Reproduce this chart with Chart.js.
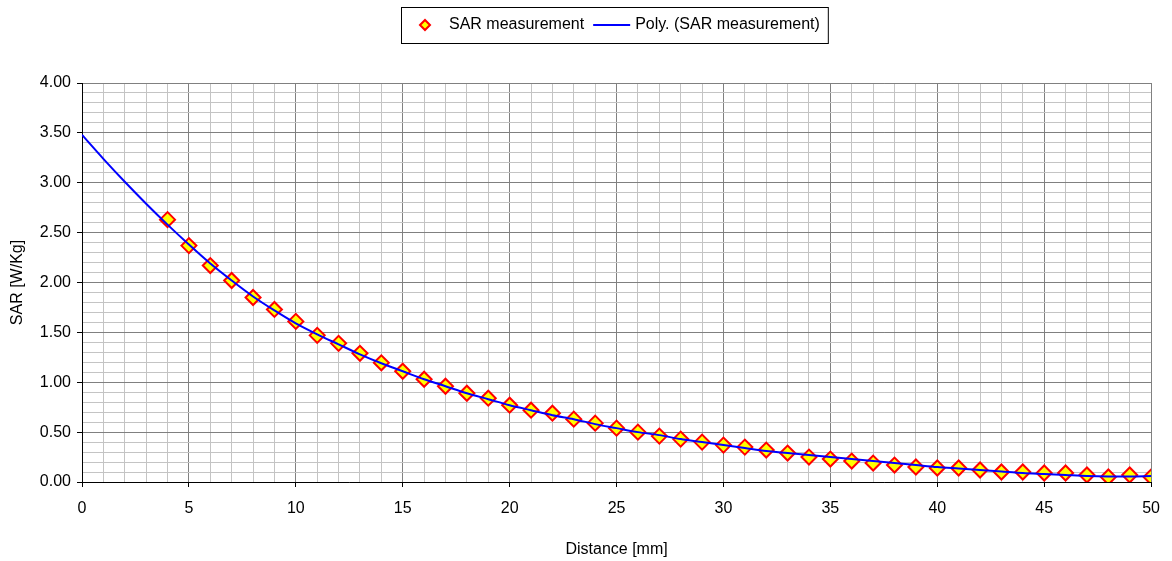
<!DOCTYPE html>
<html>
<head>
<meta charset="utf-8">
<script src="https://cdn.jsdelivr.net/npm/chart.js@4/dist/chart.umd.min.js"></script>
<style>
  html, body { margin: 0; padding: 0; background: #fff; }
  canvas { display: block; }
</style>
</head>
<body>
<canvas id="c" width="1172" height="561"></canvas>
<script>
// ---- data ----
const distance = [4,5,6,7,8,9,10,11,12,13,14,15,16,17,18,19,20,21,22,23,24,25,26,27,28,29,30,31,32,33,34,35,36,37,38,39,40,41,42,43,44,45,46,47,48,49,50];
const sarMeasured = [2.63,2.37,2.17,2.02,1.85,1.73,1.61,1.47,1.39,1.29,1.195,1.11,1.03,0.96,0.89,0.84,0.77,0.72,0.69,0.63,0.59,0.54,0.50,0.46,0.43,0.40,0.37,0.35,0.32,0.29,0.25,0.23,0.21,0.19,0.17,0.15,0.14,0.14,0.12,0.10,0.10,0.09,0.09,0.07,0.05,0.07,0.05];
const polyDistance = [0,1,2,3,4,5,6,7,8,9,10,11,12,13,14,15,16,17,18,19,20,21,22,23,24,25,26,27,28,29,30,31,32,33,34,35,36,37,38,39,40,41,42,43,44,45,46,47,48,49,50];
const polySar = [3.48,3.24,3.01,2.79,2.58,2.38,2.19,2.02,1.86,1.72,1.59,1.48,1.38,1.28,1.19,1.11,1.03,0.96,0.89,0.83,0.77,0.72,0.67,0.63,0.58,0.54,0.50,0.47,0.43,0.40,0.37,0.34,0.31,0.29,0.27,0.25,0.23,0.21,0.19,0.17,0.15,0.135,0.12,0.105,0.09,0.08,0.07,0.06,0.055,0.055,0.06];
const seriesNames = ['SAR measurement', 'Poly. (SAR measurement)'];
const xTitle = 'Distance [mm]';
const yTitle = 'SAR [W/Kg]';

const FONT = 'Liberation Sans, Arial, sans-serif';
const MAJOR = '#808080';
const MINOR = '#c4c4c4';

const legendPlugin = {
  id: 'boxLegend',
  afterDraw(chart) {
    const ctx = chart.ctx;
    ctx.save();
    ctx.font = '16px ' + FONT;
    ctx.textBaseline = 'middle';
    ctx.fillStyle = '#000';
    const top = 7, h = 36, cy = top + h / 2;
    let x = 401;
    // marker
    const mx = x + 24;
    ctx.beginPath();
    ctx.moveTo(mx - 5, cy); ctx.lineTo(mx, cy - 5); ctx.lineTo(mx + 5, cy); ctx.lineTo(mx, cy + 5); ctx.closePath();
    ctx.fillStyle = '#FFFF00'; ctx.fill();
    ctx.strokeStyle = '#FF0000'; ctx.lineWidth = 2; ctx.stroke();
    ctx.fillStyle = '#000';
    let tx = x + 48;
    ctx.fillText(seriesNames[0], tx, cy);
    tx += ctx.measureText(seriesNames[0]).width + 9;
    ctx.beginPath();
    ctx.moveTo(tx, cy); ctx.lineTo(tx + 37, cy);
    ctx.strokeStyle = '#0000FF'; ctx.lineWidth = 2; ctx.stroke();
    tx += 42;
    ctx.fillText(seriesNames[1], tx, cy);
    const right = tx + ctx.measureText(seriesNames[1]).width + 8;
    ctx.strokeStyle = '#000'; ctx.lineWidth = 1;
    ctx.strokeRect(x + 0.5, top + 0.5, right - x, h);
    ctx.restore();
  }
};

const isMajorY = v => Math.round(v * 10) % 5 === 0;
const isMajorX = v => Math.round(v) % 5 === 0;

new Chart(document.getElementById('c'), {
  type: 'scatter',
  data: {
    datasets: [
      {
        label: seriesNames[1],
        data: polyDistance.map((d, i) => ({x: d, y: polySar[i]})),
        showLine: true,
        borderColor: '#0000FF',
        borderWidth: 2,
        pointRadius: 0,
        tension: 0.3,
        fill: false,
        order: 0
      },
      {
        label: seriesNames[0],
        data: distance.map((d, i) => ({x: d, y: sarMeasured[i]})),
        showLine: false,
        pointStyle: 'rectRot',
        pointRadius: 7.5,
        pointHoverRadius: 7.5,
        pointBackgroundColor: '#FFFF00',
        pointBorderColor: '#FF0000',
        pointBorderWidth: 2,
        order: 1
      }
    ]
  },
  options: {
    responsive: false,
    devicePixelRatio: 1,
    animation: false,
    events: [],
    layout: { padding: { top: 83, right: 19, left: 0, bottom: 0 } },
    plugins: { legend: { display: false }, tooltip: { enabled: false }, title: { display: false } },
    scales: {
      x: {
        type: 'linear',
        min: 0, max: 50,
        afterFit(scale) { scale.height = 79; },
        ticks: {
          stepSize: 1,
          autoSkip: false,
          maxRotation: 0,
          padding: 12,
          color: '#000',
          font: { family: FONT, size: 16 },
          callback: v => isMajorX(v) ? String(Math.round(v)) : ''
        },
        grid: {
          color: c => isMajorX(c.tick.value) ? MAJOR : MINOR,
          tickColor: c => isMajorX(c.tick.value) ? '#000' : 'rgba(0,0,0,0)',
          tickLength: 5,
          lineWidth: 1
        },
        border: { color: '#000', width: 1 },
        title: { display: true, text: xTitle, color: '#000', font: { family: FONT, size: 16 }, padding: { top: 0, bottom: 2 } }
      },
      y: {
        type: 'linear',
        min: 0, max: 4,
        afterFit(scale) { scale.width = 82; },
        ticks: {
          stepSize: 0.1,
          autoSkip: false,
          padding: 6,
          color: '#000',
          font: { family: FONT, size: 16 },
          callback: v => isMajorY(v) ? Number(v).toFixed(2) : ''
        },
        grid: {
          color: c => isMajorY(c.tick.value) ? MAJOR : MINOR,
          tickColor: c => isMajorY(c.tick.value) ? '#000' : 'rgba(0,0,0,0)',
          tickLength: 5,
          lineWidth: 1
        },
        border: { color: '#000', width: 1 },
        title: { display: true, text: yTitle, color: '#000', font: { family: FONT, size: 16 }, padding: { top: 8, bottom: 0 } }
      }
    }
  },
  plugins: [legendPlugin]
});
</script>
</body>
</html>
